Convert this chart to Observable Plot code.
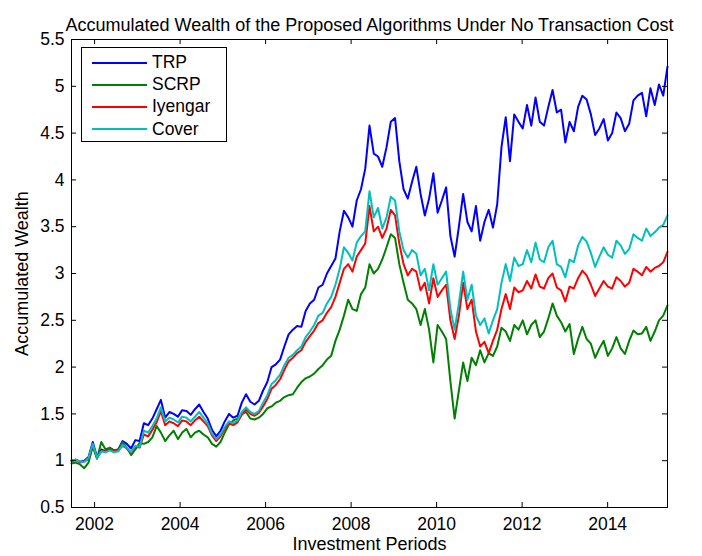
<!DOCTYPE html>
<html>
<head>
<meta charset="utf-8">
<script src="https://cdn.jsdelivr.net/npm/d3@7"></script>
<script src="https://cdn.jsdelivr.net/npm/@observablehq/plot@0.6"></script>
<style>
  body { margin: 0; background: #fff; }
  #wrap { position: relative; width: 702px; height: 556px; font-family: "Liberation Sans", Arial, Helvetica, sans-serif; }
  #legend { position: absolute; left: 81px; top: 47px; width: 146px; height: 95px; box-sizing: border-box; border: 1px solid #000; background: #fff; }
  .row { position: absolute; left: 0; height: 22px; display: flex; align-items: center; font-size: 17.5px; color: #000; white-space: nowrap; }
  .swatch { width: 55px; height: 2px; margin-left: 10px; margin-right: 5px; }
</style>
</head>
<body>
<div id="wrap"></div>
<script>
const title = "Accumulated Wealth of the Proposed Algorithms Under No Transaction Cost";
const xLabel = "Investment Periods";
const yLabel = "Accumulated Wealth";
const seriesNames = ["TRP", "SCRP", "Iyengar", "Cover"];
const seriesColors = ["#0000ff", "#008000", "#ff0000", "#00bfbf"];
const startYear = 2001.46, endYear = 2015.40;
const xTicks = [2002, 2004, 2006, 2008, 2010, 2012, 2014];
const yTicks = [0.5, 1, 1.5, 2, 2.5, 3, 3.5, 4, 4.5, 5, 5.5];

const trp = [
  1.00,1.01,0.99,1.00,1.04,1.20,1.04,1.12,1.10,1.13,
  1.11,1.12,1.21,1.18,1.13,1.22,1.21,1.40,1.38,1.45,
  1.55,1.65,1.46,1.52,1.50,1.47,1.54,1.53,1.49,1.55,
  1.60,1.52,1.45,1.33,1.26,1.32,1.42,1.50,1.46,1.48,
  1.62,1.71,1.63,1.60,1.64,1.75,1.84,2.00,2.03,2.08,
  2.22,2.35,2.40,2.44,2.43,2.60,2.68,2.72,2.85,2.88,
  3.00,3.08,3.16,3.45,3.67,3.60,3.50,3.78,3.90,4.12,
  4.58,4.28,4.25,4.14,4.35,4.62,4.66,4.20,3.90,3.80,
  3.98,4.14,3.85,3.62,3.80,4.07,3.65,3.78,3.92,3.40,
  3.18,3.50,3.85,3.55,3.45,3.72,3.35,3.55,3.68,3.49,
  3.74,4.35,4.67,4.20,4.70,4.62,4.55,4.80,4.58,4.88,
  4.62,4.58,4.78,4.96,4.72,4.75,4.40,4.62,4.52,4.78,
  4.90,4.86,4.70,4.48,4.55,4.65,4.42,4.50,4.72,4.66,
  4.52,4.60,4.85,4.90,4.93,4.68,4.98,4.80,5.02,4.90,
  5.21
];
const scrp = [
  0.97,0.98,0.96,0.92,0.98,1.15,1.02,1.20,1.12,1.14,
  1.11,1.12,1.20,1.14,1.06,1.12,1.19,1.18,1.20,1.25,
  1.37,1.30,1.21,1.27,1.32,1.23,1.30,1.34,1.25,1.30,
  1.32,1.28,1.25,1.18,1.15,1.20,1.30,1.39,1.43,1.45,
  1.50,1.52,1.45,1.44,1.46,1.50,1.56,1.58,1.62,1.64,
  1.68,1.70,1.71,1.78,1.84,1.88,1.90,1.93,1.98,2.02,
  2.08,2.12,2.28,2.40,2.55,2.72,2.62,2.60,2.78,2.85,
  3.10,3.00,3.05,3.15,3.28,3.42,3.38,3.10,2.90,2.72,
  2.68,2.62,2.45,2.62,2.40,2.05,2.45,2.38,2.30,1.85,
  1.45,1.75,2.05,1.85,2.10,2.02,2.18,2.05,2.15,2.12,
  2.22,2.42,2.38,2.28,2.45,2.40,2.50,2.35,2.45,2.50,
  2.32,2.38,2.52,2.68,2.55,2.48,2.38,2.46,2.14,2.30,
  2.43,2.30,2.25,2.10,2.20,2.28,2.12,2.20,2.32,2.20,
  2.14,2.28,2.39,2.35,2.36,2.43,2.28,2.38,2.50,2.55,
  2.66
];
const iyengar = [
  1.00,1.01,0.98,0.99,1.02,1.17,1.03,1.10,1.10,1.12,
  1.10,1.11,1.16,1.13,1.08,1.15,1.14,1.28,1.26,1.33,
  1.41,1.53,1.38,1.42,1.40,1.37,1.43,1.42,1.38,1.43,
  1.47,1.42,1.37,1.27,1.21,1.26,1.34,1.40,1.38,1.41,
  1.49,1.55,1.50,1.48,1.51,1.58,1.66,1.77,1.81,1.87,
  1.97,2.06,2.10,2.15,2.18,2.27,2.33,2.39,2.47,2.50,
  2.58,2.64,2.75,2.90,3.05,3.10,3.02,3.18,3.25,3.32,
  3.72,3.45,3.50,3.38,3.48,3.68,3.62,3.32,3.10,2.98,
  3.05,3.02,2.82,2.90,2.68,2.95,2.75,2.82,2.88,2.50,
  2.30,2.55,2.90,2.62,2.72,2.38,2.22,2.27,2.15,2.28,
  2.40,2.62,2.78,2.62,2.85,2.80,2.82,2.92,2.84,2.99,
  2.86,2.84,2.95,3.00,2.85,2.82,2.70,2.86,2.84,2.95,
  3.03,2.98,2.88,2.76,2.84,2.92,2.86,2.84,2.96,2.92,
  2.86,2.90,3.05,3.02,2.98,3.07,3.02,3.06,3.08,3.12,
  3.23
];
const cover = [
  1.00,1.01,0.99,0.99,1.03,1.18,1.03,1.10,1.09,1.11,
  1.09,1.10,1.17,1.14,1.09,1.16,1.15,1.32,1.30,1.37,
  1.45,1.57,1.42,1.46,1.44,1.41,1.47,1.46,1.42,1.47,
  1.52,1.46,1.40,1.29,1.23,1.28,1.36,1.42,1.40,1.43,
  1.52,1.57,1.52,1.50,1.53,1.62,1.70,1.82,1.86,1.92,
  2.02,2.10,2.13,2.18,2.22,2.32,2.38,2.45,2.55,2.58,
  2.68,2.75,2.88,3.05,3.28,3.22,3.14,3.33,3.40,3.45,
  3.88,3.60,3.70,3.48,3.60,3.82,3.78,3.45,3.25,3.17,
  3.25,3.21,2.98,3.05,2.82,3.10,2.88,2.95,3.02,2.62,
  2.40,2.68,3.02,2.72,2.88,2.55,2.45,2.52,2.36,2.50,
  2.62,2.90,3.10,2.92,3.17,3.08,3.10,3.25,3.12,3.33,
  3.15,3.12,3.28,3.35,3.10,3.07,2.96,3.15,3.12,3.30,
  3.39,3.34,3.22,3.07,3.18,3.28,3.20,3.17,3.35,3.30,
  3.21,3.26,3.42,3.38,3.35,3.48,3.40,3.44,3.49,3.52,
  3.62
];

const W = 702, H = 556, mL = 71, mR = 35, mT = 39, mB = 49;
const innerW = W - mL - mR, innerH = H - mT - mB;
const font = "'Liberation Sans', Arial, Helvetica, sans-serif";

const rows = [];
[trp, scrp, iyengar, cover].forEach((vals, s) => {
  const n = vals.length;
  vals.forEach((v, i) => rows.push({
    series: seriesNames[s],
    year: startYear + i * (endYear - startYear) / (n - 1),
    value: v
  }));
});

const chart = Plot.plot({
  width: W, height: H,
  marginLeft: mL, marginRight: mR, marginTop: mT, marginBottom: mB,
  style: { fontFamily: font, fontSize: "17.5px", background: "#fff", color: "#000", overflow: "visible" },
  x: { type: "linear", domain: [startYear, endYear] },
  y: { type: "linear", domain: [0.5, 5.5] },
  color: { domain: seriesNames, range: seriesColors },
  marks: [
    Plot.line(rows, { x: "year", y: "value", z: "series", stroke: "series", strokeWidth: 2 }),
    Plot.ruleX(xTicks, { x: d => d, insetTop: innerH - 5, stroke: "#000" }),
    Plot.ruleX(xTicks, { x: d => d, insetBottom: innerH - 5, stroke: "#000" }),
    Plot.ruleY(yTicks, { y: d => d, insetRight: innerW - 5, stroke: "#000" }),
    Plot.ruleY(yTicks, { y: d => d, insetLeft: innerW - 5, stroke: "#000" }),
    Plot.frame({ stroke: "#000" }),
    Plot.axisX(xTicks, { tickSize: 0, tickPadding: 10, label: null, tickFormat: d => String(d), fontSize: 17.5 }),
    Plot.axisY(yTicks, { tickSize: 0, tickPadding: 7, label: null, tickFormat: d => String(d), fontSize: 17.5 }),
    Plot.text([title], { frameAnchor: "top", textAnchor: "middle", dy: -21, fontSize: 18, text: d => d }),
    Plot.text([xLabel], { frameAnchor: "bottom", textAnchor: "middle", dy: 42, fontSize: 18, text: d => d }),
    Plot.text([yLabel], { frameAnchor: "left", textAnchor: "middle", dx: -49, rotate: -90, fontSize: 18, text: d => d })
  ]
});

const wrap = document.getElementById("wrap");
wrap.appendChild(chart);

const legend = document.createElement("div");
legend.id = "legend";
seriesNames.forEach((name, i) => {
  const row = document.createElement("div");
  row.className = "row";
  row.style.top = (15.5 + 22.2 * i - 11 - 1) + "px";
  const sw = document.createElement("div");
  sw.className = "swatch";
  sw.style.background = seriesColors[i];
  const label = document.createElement("span");
  label.textContent = name;
  row.appendChild(sw);
  row.appendChild(label);
  legend.appendChild(row);
});
wrap.appendChild(legend);
</script>
</body>
</html>
